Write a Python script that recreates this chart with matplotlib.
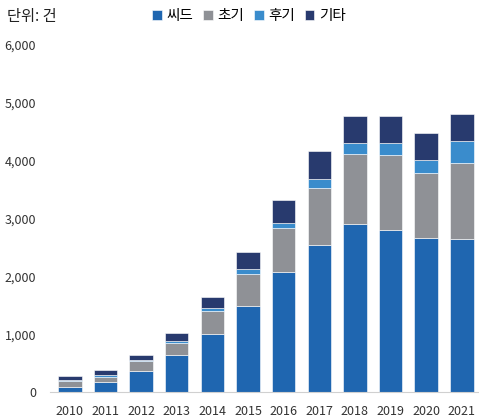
import numpy as np
import matplotlib.pyplot as plt

plt.rcParams['font.family'] = ['Noto Sans CJK KR', 'DejaVu Sans']

years = ['2010', '2011', '2012', '2013', '2014', '2015',
         '2016', '2017', '2018', '2019', '2020', '2021']
seed = [95, 180, 375, 650, 1005, 1495, 2070, 2540, 2910, 2810, 2660, 2655]
early = [100, 90, 160, 205, 395, 555, 760, 980, 1205, 1280, 1120, 1300]
late = [20, 25, 25, 35, 65, 80, 100, 155, 180, 210, 225, 390]
other = [65, 85, 90, 135, 190, 300, 395, 485, 475, 470, 475, 460]
labels = ['씨드', '초기', '후기', '기타']
colors = ['#1f66b0', '#8f9196', '#3a8ccc', '#283a6e']

fig = plt.figure(figsize=(4.79, 4.20), dpi=100)
ax = fig.add_axes([0.104, 0.0655, 0.896, 0.8285])

x = np.arange(len(years))
bottom = np.zeros(len(years))
for vals, lab, col in zip([seed, early, late, other], labels, colors):
    ax.bar(x, vals, 0.66, bottom=bottom, color=col, label=lab,
           edgecolor='white', linewidth=0.4)
    bottom += np.array(vals)

ax.set_xlim(-0.56, 11.48)
ax.set_ylim(0, 6000)
ax.set_xticks(x)
ax.set_xticklabels(years, fontsize=9, color='#333333')
ax.set_yticks(range(0, 6001, 1000))
ax.set_yticklabels([f'{v:,}' for v in range(0, 6001, 1000)], fontsize=9, color='#333333')
ax.tick_params(length=0)
ax.tick_params(axis='x', pad=9)
ax.tick_params(axis='y', pad=10)
for s in ['top', 'right', 'left']:
    ax.spines[s].set_visible(False)
ax.spines['bottom'].set_color('#d0d0d0')

fig.text(7 / 479, 1 - 16 / 420, '단위: 건', fontsize=11, va='center', ha='left', color='#222222')
fig.legend(loc='center', bbox_to_anchor=(249 / 479, 1 - 16 / 420), ncol=4,
           frameon=False, fontsize=10.5, handlelength=0.65, handleheight=0.65,
           handletextpad=0.3, columnspacing=0.7)

fig.savefig('out.png', dpi=100)
